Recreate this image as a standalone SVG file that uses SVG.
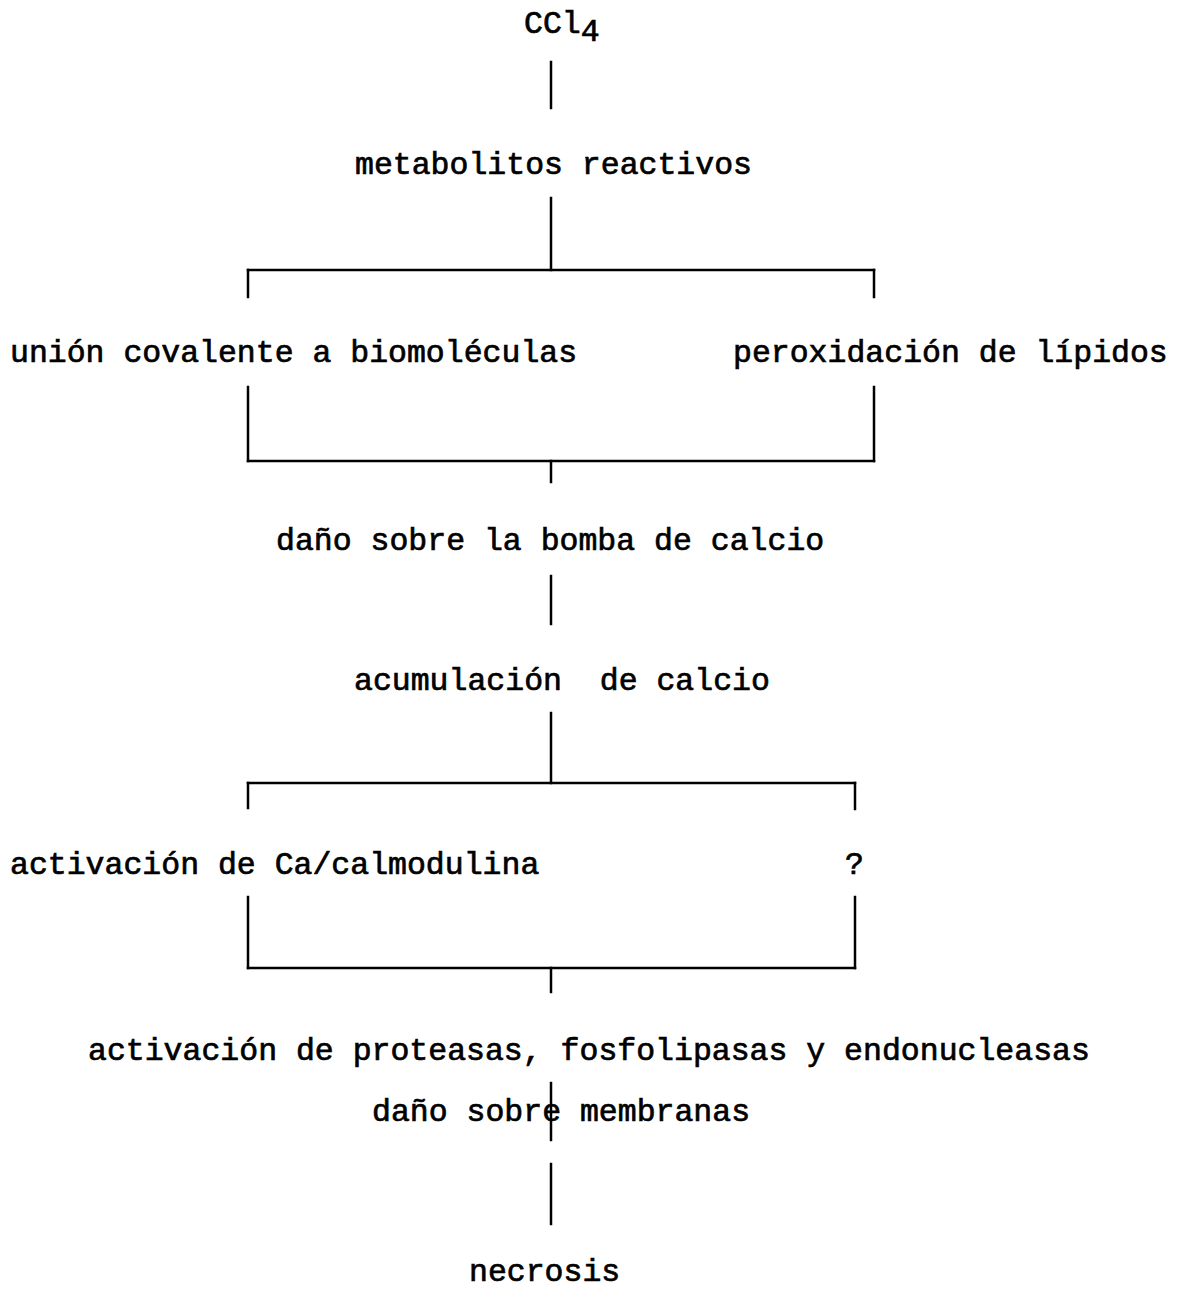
<svg xmlns="http://www.w3.org/2000/svg" width="1179" height="1291" viewBox="0 0 1179 1291">
<style>
text{font-family:"Liberation Mono","Courier New",monospace;font-size:31.5px;font-weight:normal;fill:#000;stroke:#000;stroke-width:0.7px;}
.c line{stroke:#000;stroke-width:2.5;stroke-linecap:square;}
</style>
<rect width="1179" height="1291" fill="#fff"/>
<g class="c" id="connectors">
<line x1="551" y1="62" x2="551" y2="108"/>
<line x1="551" y1="198" x2="551" y2="270"/>
<line x1="248" y1="270" x2="874" y2="270"/>
<line x1="248" y1="270" x2="248" y2="297"/>
<line x1="874" y1="270" x2="874" y2="297"/>
<line x1="248" y1="387" x2="248" y2="461"/>
<line x1="874" y1="387" x2="874" y2="461"/>
<line x1="248" y1="461" x2="874" y2="461"/>
<line x1="551" y1="461" x2="551" y2="482"/>
<line x1="551" y1="576" x2="551" y2="624"/>
<line x1="551" y1="713" x2="551" y2="783"/>
<line x1="248" y1="783" x2="855" y2="783"/>
<line x1="248" y1="783" x2="248" y2="808"/>
<line x1="855" y1="783" x2="855" y2="809"/>
<line x1="248" y1="897" x2="248" y2="968"/>
<line x1="855" y1="897" x2="855" y2="968"/>
<line x1="248" y1="968" x2="855" y2="968"/>
<line x1="551" y1="968" x2="551" y2="992"/>
<line x1="551" y1="1083" x2="551" y2="1140"/>
<line x1="551" y1="1164" x2="551" y2="1224"/>
</g>
<g id="n-ccl4"><text x="524" y="33">CCl<tspan dy="8">4</tspan></text></g>
<g id="n-metabolitos"><text x="355" y="174">metabolitos reactivos</text></g>
<g id="n-union"><text x="10" y="362">unión covalente a biomoléculas</text></g>
<g id="n-peroxidacion"><text x="733" y="362">peroxidación de lípidos</text></g>
<g id="n-bomba"><text x="276" y="550">daño sobre la bomba de calcio</text></g>
<g id="n-acumulacion"><text x="354" y="690" xml:space="preserve">acumulación  de calcio</text></g>
<g id="n-calmodulina"><text x="10" y="874">activación de Ca/calmodulina</text></g>
<g id="n-question"><text x="845" y="874">?</text></g>
<g id="n-proteasas"><text x="88" y="1060">activación de proteasas, fosfolipasas y endonucleasas</text></g>
<g id="n-membranas"><text x="372" y="1121">daño sobre membranas</text></g>
<g id="n-necrosis"><text x="469" y="1281">necrosis</text></g>
</svg>
